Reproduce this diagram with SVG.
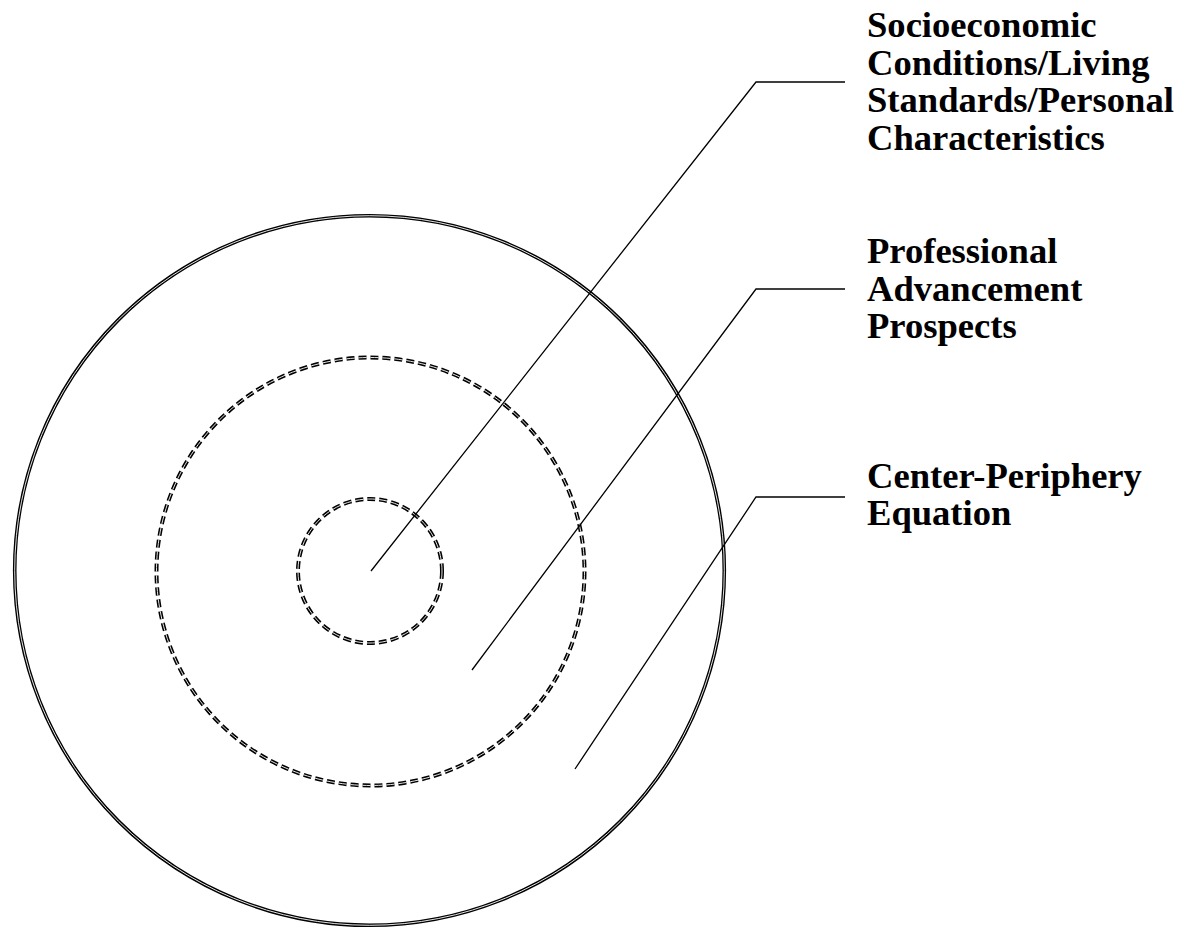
<svg xmlns="http://www.w3.org/2000/svg" width="1186" height="931" viewBox="0 0 1186 931">
<style>
.ring{fill:none;stroke:#000;stroke-width:3.6}
.ringin{fill:none;stroke:#fff;stroke-width:0.9}
.dash{stroke-dasharray:8 4;stroke-width:4}
.dashin{stroke-dasharray:8 4}
.lead{fill:none;stroke:#000;stroke-width:1.3}
.lbl{font-family:"Liberation Serif","Times New Roman",serif;font-weight:bold;font-size:36.6px;fill:#000}
</style>
<rect width="1186" height="931" fill="#fff"/>
<g id="outer-ring">
<circle class="ring" cx="369.5" cy="570.5" r="354.8"/>
<circle class="ringin" cx="369.5" cy="570.5" r="354.8"/>
</g>
<g id="middle-ring">
<circle class="ring dash" cx="370.5" cy="571.5" r="214"/>
<circle class="ringin dashin" cx="370.5" cy="571.5" r="214"/>
</g>
<g id="inner-ring">
<circle class="ring dash" cx="370" cy="571" r="72"/>
<circle class="ringin dashin" cx="370" cy="571" r="72"/>
</g>
<g id="connectors">
<polyline class="lead" points="371,571 756,82 845,82"/>
<polyline class="lead" points="472,670 756,289 845,289"/>
<polyline class="lead" points="575,769 756,497 845,497"/>
</g>
<g id="label-socioeconomic">
<text class="lbl" x="867" y="37">Socioeconomic</text>
<text class="lbl" x="867" y="75">Conditions/Living</text>
<text class="lbl" x="867" y="112">Standards/Personal</text>
<text class="lbl" x="867" y="150">Characteristics</text>
</g>
<g id="label-professional">
<text class="lbl" x="867" y="263">Professional</text>
<text class="lbl" x="867" y="301">Advancement</text>
<text class="lbl" x="867" y="338">Prospects</text>
</g>
<g id="label-center">
<text class="lbl" x="867" y="488">Center-Periphery</text>
<text class="lbl" x="867" y="525">Equation</text>
</g>
</svg>
